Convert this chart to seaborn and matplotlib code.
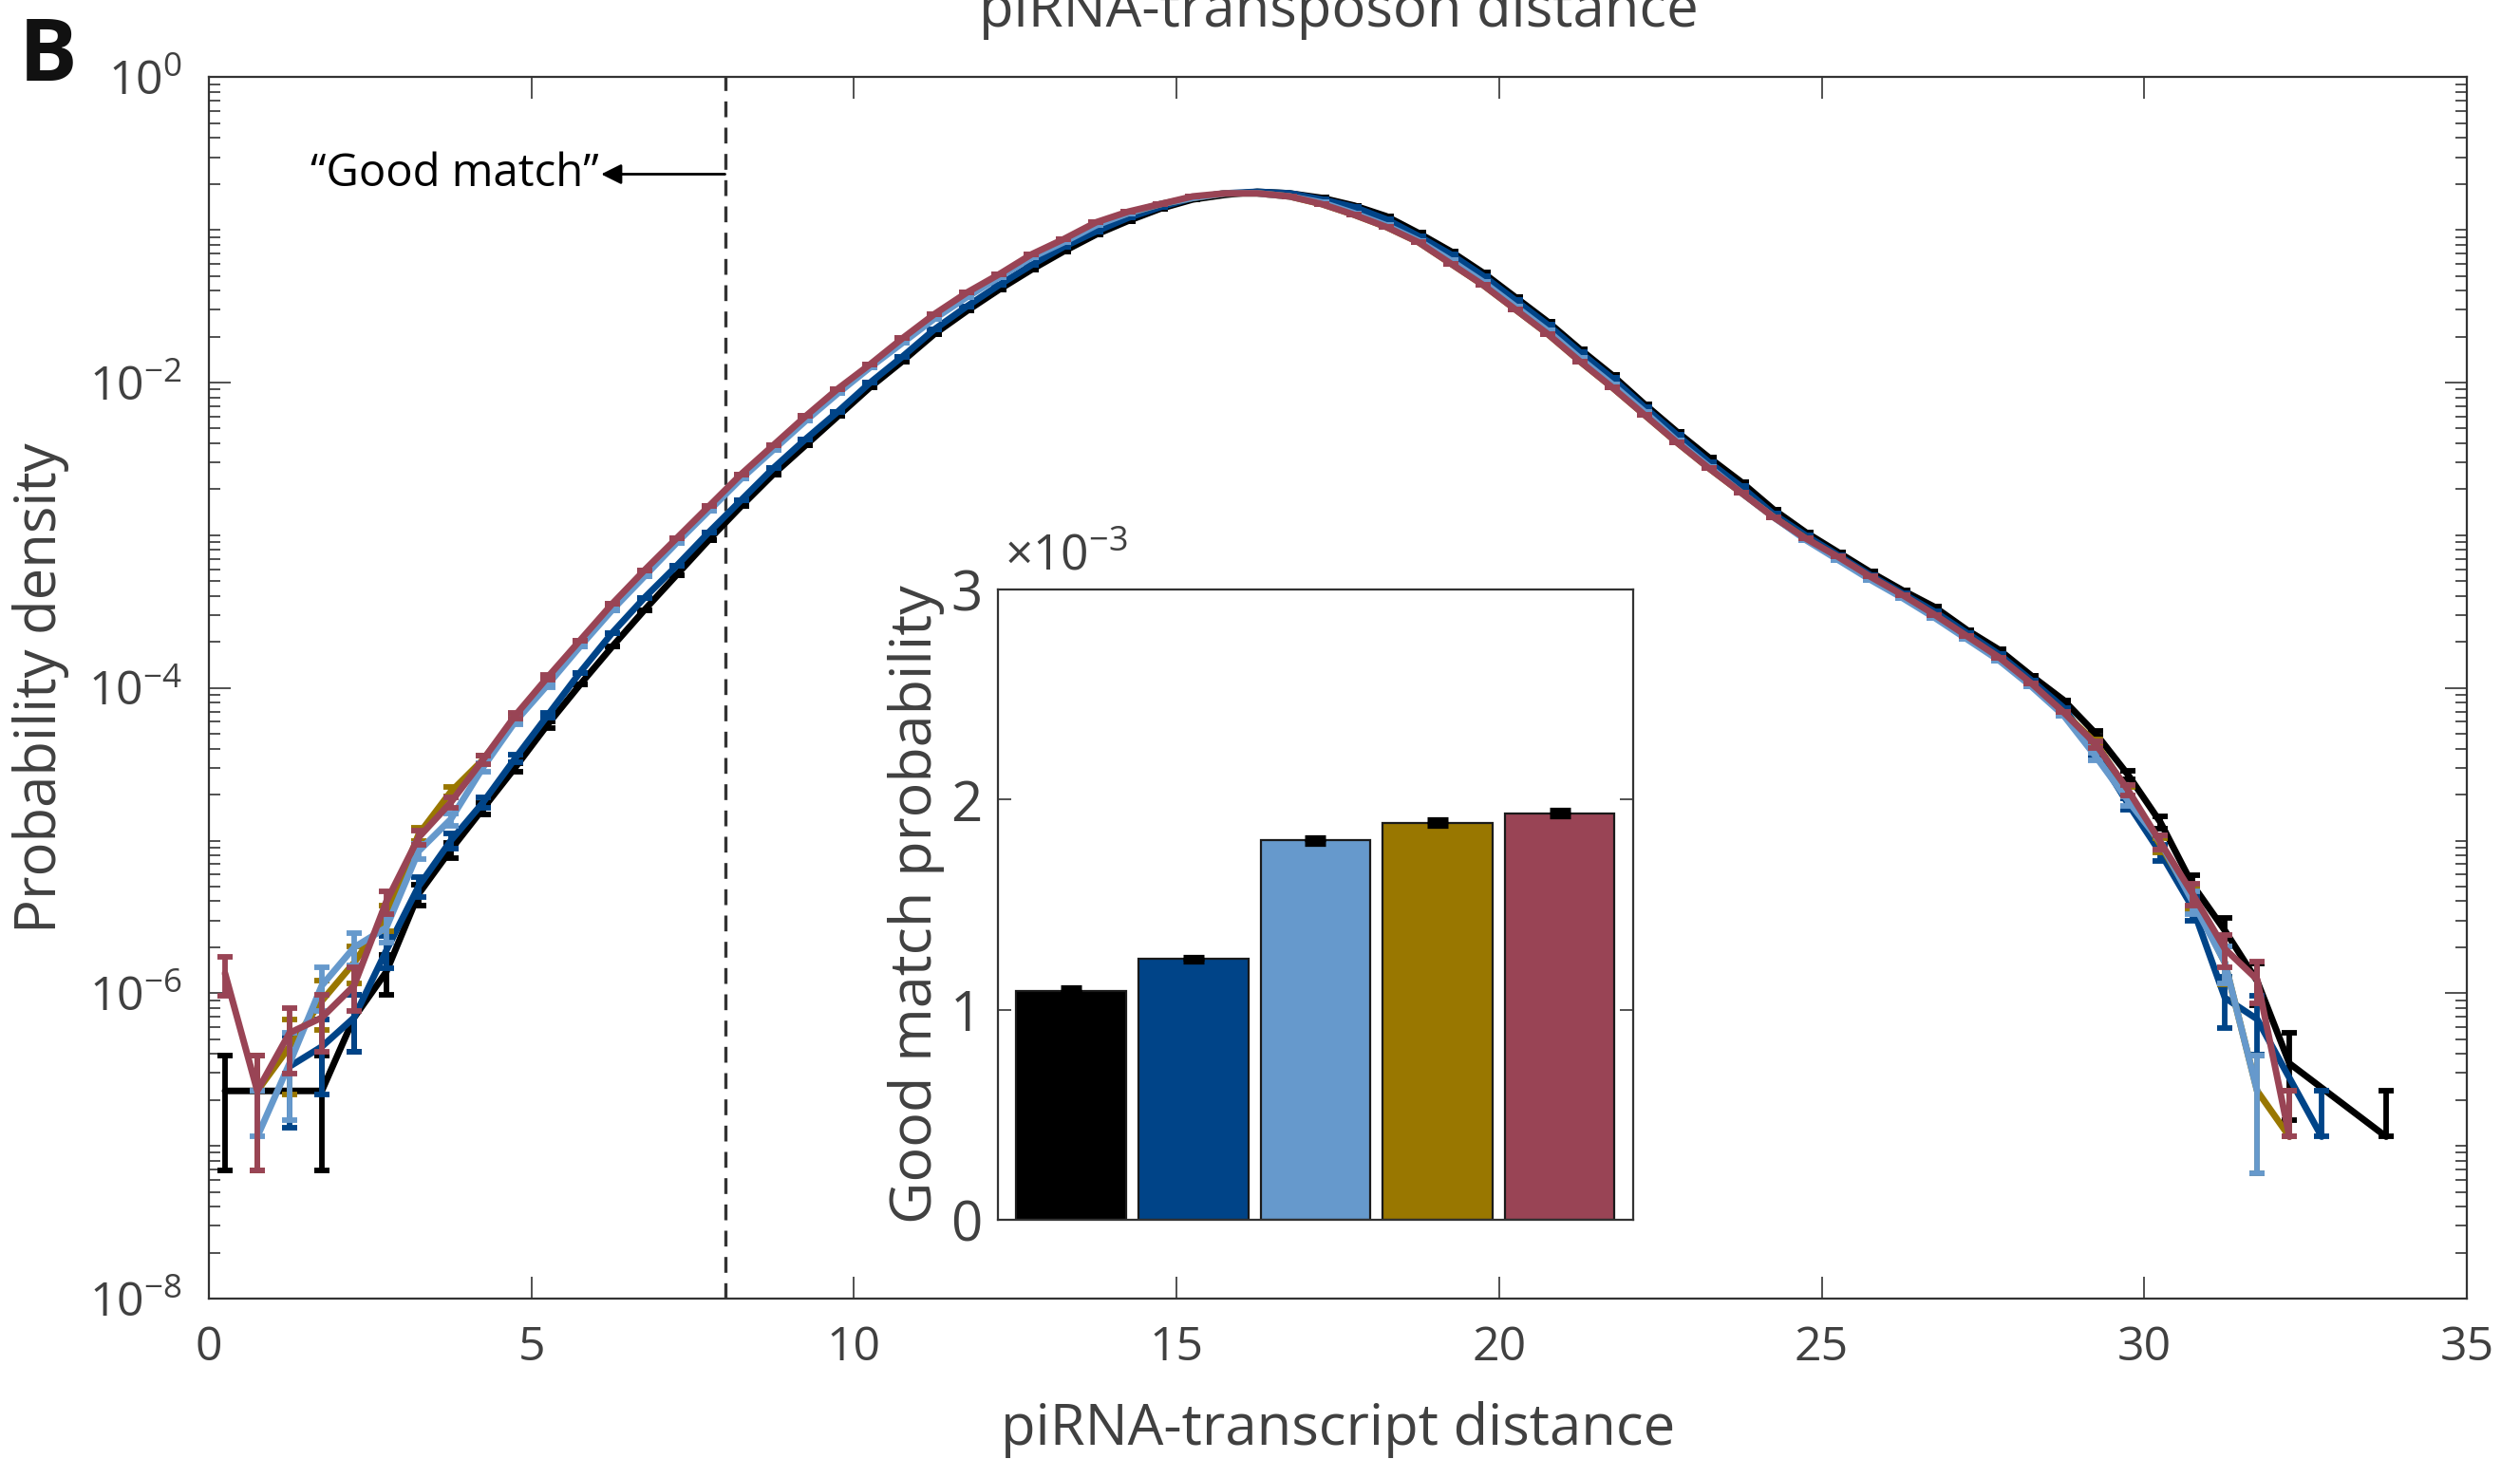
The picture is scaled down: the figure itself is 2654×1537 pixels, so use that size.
import numpy as np
import pandas as pd
import matplotlib
matplotlib.use('Agg')
import matplotlib.pyplot as plt
import seaborn as sns
from matplotlib.ticker import LogLocator, NullFormatter, LogFormatterSciNotation

# histogram bin centres (piRNA-transcript distance)
bin_centers = np.arange(0.25, 34.0, 0.5)

# log10 probability density per group, None = empty bin
black_log = [-6.64, -6.64, -6.64, -6.64, -6.16, -5.86, -5.35, -5.06, -4.79, -4.52,
             -4.24, -3.98, -3.73, -3.49, -3.26, -3.03, -2.81, -2.60, -2.41, -2.22,
             -2.03, -1.86, -1.68, -1.53, -1.39, -1.26, -1.14, -1.03, -0.94, -0.86,
             -0.80, -0.77, -0.75, -0.76, -0.79, -0.84, -0.91, -1.02, -1.14, -1.28,
             -1.44, -1.60, -1.78, -1.95, -2.14, -2.32, -2.49, -2.65, -2.83, -2.98,
             -3.11, -3.24, -3.36, -3.47, -3.62, -3.75, -3.92, -4.08, -4.30, -4.57,
             -4.88, -5.29, -5.59, -5.92, -6.46, None, None, -6.94]
dblue_log = [None, None, -6.48, -6.35, -6.16, -5.72, -5.30, -5.00, -4.75, -4.46,
             -4.18, -3.90, -3.64, -3.41, -3.20, -2.98, -2.77, -2.56, -2.37, -2.19,
             -2.00, -1.83, -1.65, -1.50, -1.36, -1.23, -1.11, -1.01, -0.92, -0.85,
             -0.79, -0.76, -0.75, -0.76, -0.80, -0.85, -0.93, -1.04, -1.16, -1.30,
             -1.46, -1.62, -1.80, -1.97, -2.16, -2.34, -2.52, -2.68, -2.86, -3.00,
             -3.13, -3.26, -3.38, -3.50, -3.64, -3.78, -3.95, -4.13, -4.42, -4.76,
             -5.08, -5.44, -6.03, -6.17, None, -6.94, None, None]
lblue_log = [None, -6.94, -6.46, -5.95, -5.70, -5.57, -5.07, -4.86, -4.52, -4.22,
             -3.98, -3.73, -3.49, -3.27, -3.05, -2.84, -2.63, -2.44, -2.25, -2.07,
             -1.90, -1.74, -1.58, -1.44, -1.31, -1.18, -1.08, -0.97, -0.89, -0.83,
             -0.79, -0.76, -0.76, -0.78, -0.82, -0.89, -0.97, -1.07, -1.20, -1.34,
             -1.50, -1.66, -1.84, -2.01, -2.19, -2.38, -2.55, -2.72, -2.88, -3.03,
             -3.16, -3.29, -3.41, -3.54, -3.68, -3.82, -3.99, -4.18, -4.45, -4.74,
             -5.01, -5.40, -5.80, -6.64, None, None, None, None]
gold_log = [None, -6.64, -6.35, -6.05, -5.80, -5.50, -4.96, -4.68, -4.47, -4.20,
            -3.94, -3.70, -3.46, -3.24, -3.03, -2.82, -2.61, -2.42, -2.23, -2.05,
            -1.89, -1.72, -1.56, -1.42, -1.30, -1.17, -1.07, -0.96, -0.89, -0.83,
            -0.79, -0.76, -0.76, -0.78, -0.83, -0.90, -0.98, -1.08, -1.22, -1.36,
            -1.52, -1.68, -1.86, -2.03, -2.21, -2.39, -2.56, -2.72, -2.88, -3.02,
            -3.15, -3.28, -3.40, -3.53, -3.67, -3.81, -3.98, -4.16, -4.36, -4.68,
            -5.03, -5.38, -5.80, -6.64, -6.94, None, None, None]
red_log = [-5.87, -6.64, -6.26, -6.16, -5.95, -5.40, -4.98, -4.75, -4.47, -4.18,
           -3.93, -3.69, -3.45, -3.23, -3.02, -2.81, -2.60, -2.41, -2.22, -2.04,
           -1.88, -1.71, -1.55, -1.41, -1.29, -1.16, -1.06, -0.95, -0.88, -0.83,
           -0.78, -0.76, -0.76, -0.78, -0.83, -0.90, -0.98, -1.08, -1.22, -1.36,
           -1.52, -1.68, -1.86, -2.03, -2.21, -2.39, -2.56, -2.72, -2.88, -3.02,
           -3.14, -3.27, -3.39, -3.52, -3.66, -3.80, -3.97, -4.16, -4.37, -4.67,
           -5.01, -5.35, -5.71, -5.91, -6.94, None, None, None]

# error bars (linear), first 11 bins and last 10 bins; middle bins too small to see
black_err_lo = [1.6e-7, 1.6e-7, 0, 1.6e-7, 2.8e-7, 4e-7, 7e-7, 1e-6, 1.4e-6, 1.9e-6, 2.6e-6]
black_err_hi = [2.4e-6, 1.8e-6, 1.2e-6, 7.7e-7, 5.4e-7, 3.7e-7, 2e-7, 0, 0, 1.15e-7]
dblue_err_lo = [0, 0, 2e-7, 2.3e-7, 2.8e-7, 4.5e-7, 7.5e-7, 1.1e-6, 1.4e-6, 1.9e-6, 2.6e-6]
dblue_err_hi = [2.1e-6, 1.4e-6, 1e-6, 6.5e-7, 3.4e-7, 2.8e-7, 0, 1.15e-7, 0, 0]
lblue_err_lo = [0, 1.15e-7, 2e-7, 3.6e-7, 4.8e-7, 5.6e-7, 1e-6, 1.3e-6, 1.9e-6, 2.6e-6, 3.5e-6]
lblue_err_hi = [2e-6, 1.4e-6, 1.05e-6, 6.8e-7, 4.3e-7, 1.63e-7, 0, 0, 0, 0]
gold_err_lo = [0, 1.6e-7, 2.3e-7, 3.2e-7, 4.3e-7, 6e-7, 1.1e-6, 1.5e-6, 2e-6, 2.7e-6, 3.7e-6]
gold_err_hi = [2.2e-6, 1.55e-6, 1e-6, 7e-7, 4.5e-7, 1.63e-7, 1.15e-7, 0, 0, 0]
red_err_lo = [3.8e-7, 1.6e-7, 2.5e-7, 2.8e-7, 3.6e-7, 6.8e-7, 1.1e-6, 1.4e-6, 2e-6, 2.8e-6, 3.7e-6]
red_err_hi = [2.2e-6, 1.6e-6, 1.05e-6, 7.2e-7, 4.7e-7, 3.7e-7, 1.15e-7, 0, 0, 0]

colors = ['#000000', '#004488', '#6699CC', '#997700', '#994455']

# inset: good match probability per group
groups = ['g1', 'g2', 'g3', 'g4', 'g5']
good_prob = [1.09e-3, 1.24e-3, 1.805e-3, 1.89e-3, 1.935e-3]
good_err = [0.010e-3, 0.008e-3, 0.010e-3, 0.010e-3, 0.010e-3]

good_cut = 8
arrow_y = 0.232

sns.set_style('ticks')
plt.rcParams['font.family'] = ['Open Sans', 'DejaVu Sans']
plt.rcParams['mathtext.fontset'] = 'custom'
plt.rcParams['mathtext.rm'] = 'Open Sans'
plt.rcParams['mathtext.default'] = 'regular'
grey = '#404040'
spine = '#333333'

fig = plt.figure(figsize=(13.27, 7.685), dpi=200)
ax = fig.add_axes([0.0829, 0.110, 0.896, 0.837])

series = [(black_log, black_err_lo, black_err_hi, colors[0]),
          (dblue_log, dblue_err_lo, dblue_err_hi, colors[1]),
          (gold_log, gold_err_lo, gold_err_hi, colors[3]),
          (lblue_log, lblue_err_lo, lblue_err_hi, colors[2]),
          (red_log, red_err_lo, red_err_hi, colors[4])]

ax.set_yscale('log')
for logv, elo, ehi, col in series:
    vals = np.array([np.nan if v is None else 10 ** v for v in logv])
    err = np.r_[elo, np.zeros(47), ehi]
    ok = ~np.isnan(vals)
    x, y, e = bin_centers[ok], vals[ok], err[ok]
    lower = np.where(e < y, e, 0)
    df = pd.DataFrame({'d': x, 'p': y})
    sns.lineplot(data=df, x='d', y='p', color=col, lw=2.5, sort=False,
                 estimator=None, ax=ax)
    ax.errorbar(x, y, yerr=[lower, e], fmt='none', ecolor=col, elinewidth=2.1,
                capsize=3.0, capthick=2.1)

ax.axvline(good_cut, color='#333333', lw=1.2, dashes=(5, 3.3), zorder=1)
ax.annotate('', xy=(6.08, arrow_y), xytext=(good_cut, arrow_y),
            arrowprops=dict(arrowstyle='-|>', color='black', lw=1.0,
                            mutation_scale=16, shrinkA=0, shrinkB=0))
ax.text(6.05, arrow_y, '\u201cGood match\u201d', ha='right', va='center',
        fontsize=17, color='black')

ax.set_xlim(0, 35)
ax.set_ylim(1e-8, 1)
ax.set_xticks(range(0, 36, 5))
ax.yaxis.set_major_locator(LogLocator(base=100, numticks=10))
ax.yaxis.set_minor_locator(LogLocator(base=10, subs=np.arange(1, 10), numticks=20))
ax.yaxis.set_major_formatter(LogFormatterSciNotation(base=10))
ax.yaxis.set_minor_formatter(NullFormatter())
ax.tick_params(which='both', direction='in', top=True, right=True, color=spine,
               width=0.6, labelcolor=grey, labelsize=18)
ax.tick_params(which='major', length=8.4, pad=10)
ax.tick_params(which='minor', length=4.2)
for s in ax.spines.values():
    s.set_color(spine)
    s.set_linewidth(0.8)
ax.set_xlabel('piRNA-transcript distance', fontsize=21.5, color=grey)
ax.set_ylabel('Probability density', fontsize=21.5, color=grey)
ax.xaxis.set_label_coords(0.5, -0.084)
ax.yaxis.set_label_coords(-0.062, 0.5)

# inset bar chart
axin = fig.add_axes([0.396, 0.164, 0.252, 0.432])
sns.barplot(x=groups, y=np.array(good_prob) * 1e3, hue=groups, palette=colors,
            legend=False, width=0.9, saturation=1, edgecolor='#1a1a1a',
            linewidth=0.8, errorbar=None, ax=axin)
axin.errorbar(range(len(groups)), np.array(good_prob) * 1e3,
              yerr=np.array(good_err) * 1e3, fmt='none', ecolor='black',
              elinewidth=2.2, capsize=3.8, capthick=2.6)
axin.set_xlim(-0.6, 4.6)
axin.set_ylim(0, 3)
axin.set_yticks([0, 1, 2, 3])
axin.set_xticks([])
axin.set_xlabel('')
axin.tick_params(axis='y', direction='in', right=True, length=5, width=0.6,
                 color=spine, labelcolor=grey, labelsize=21, pad=6)
for s in axin.spines.values():
    s.set_visible(True)
    s.set_color(spine)
    s.set_linewidth(0.8)
axin.set_ylabel('Good match probability', fontsize=22, color=grey, labelpad=2)
axin.text(0.01, 1.012, r'$\times10^{-3}$', transform=axin.transAxes,
          fontsize=18.5, color=grey, ha='left', va='bottom')

fig.text(0.5312, 1 - 28 / 1537, 'piRNA-transposon distance', ha='center',
         va='baseline', fontsize=21.5, color=grey)
fig.text(20 / 2654, 1 - 85 / 1537, 'B', fontsize=33, fontweight='bold',
         va='baseline', ha='left', color='#111111')

fig.savefig('out.png', dpi=200)
